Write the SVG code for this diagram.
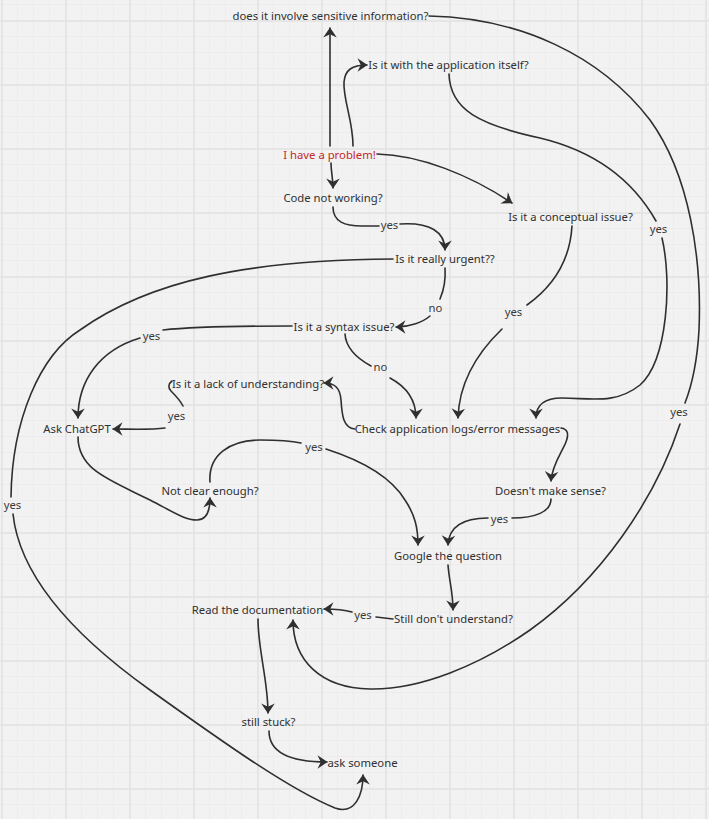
<svg xmlns="http://www.w3.org/2000/svg" width="709" height="819" viewBox="0 0 709 819">
  <defs>
    <pattern id="grid" x="1" y="20" width="64" height="64" patternUnits="userSpaceOnUse">
      <rect width="64" height="64" fill="#f2f2f2"/>
      <rect x="16" y="0" width="1" height="64" fill="#ececec"/>
      <rect x="32" y="0" width="1" height="64" fill="#ececec"/>
      <rect x="48" y="0" width="1" height="64" fill="#ececec"/>
      <rect x="0" y="16" width="64" height="1" fill="#ececec"/>
      <rect x="0" y="32" width="64" height="1" fill="#ececec"/>
      <rect x="0" y="48" width="64" height="1" fill="#ececec"/>
      <rect x="0" y="0" width="2" height="64" fill="#e5e5e5"/>
      <rect x="0" y="0" width="64" height="2" fill="#e5e5e5"/>
    </pattern>
    <marker id="ah" viewBox="-11 -8 12 16" refX="0" refY="0" markerWidth="12" markerHeight="16" markerUnits="userSpaceOnUse" orient="auto">
      <path d="M0.5,0 L-9.5,-6.8 L-6.2,0 L-9.5,6.8 Z" fill="#2f2f2f"/>
    </marker>
    <style>
      .t { font-family: "Noto Sans", "Open Sans", sans-serif; font-size: 11.3px; fill: #303030; text-anchor: middle; }
      .lbl { font-family: "Noto Sans", "Open Sans", sans-serif; font-size: 11.3px; fill: #3a3a3a; text-anchor: middle; }
      .red { fill: #c62828; }
      .c path { fill: none; stroke: #2f2f2f; stroke-width: 1.6; stroke-linecap: round; }
      .c path.a { marker-end: url(#ah); }
    </style>
  </defs>

  <rect width="709" height="819" fill="url(#grid)"/>

  <!-- connectors -->
  <g id="connectors" class="c">
    <!-- problem -> sensitive information -->
    <path class="a" d="M330,146 L330,28"/>
    <!-- problem -> application itself -->
    <path class="a" d="M353,146 C353,120 343,100 344,82 C345,70 352,65 367,65"/>
    <!-- problem -> code not working -->
    <path class="a" d="M331,163 C331,172 333,178 333,188"/>
    <!-- problem -> conceptual issue -->
    <path class="a" d="M377,154 C420,155 470,175 512,203"/>
    <!-- code not working -> urgent (yes) -->
    <path d="M333,207 C333,222 345,226 362,226 L379,226"/>
    <path class="a" d="M400,224 C430,222 445,232 445,250"/>
    <!-- urgent -> syntax (no) -->
    <path d="M445,268 C446,282 443,292 440,299"/>
    <path class="a" d="M430,316 C423,322 410,327 396,327"/>
    <!-- urgent -> ask someone (yes) -->
    <path d="M393,259 C250,260 150,280 80,330 C40,355 12,420 11,497"/>
    <path class="a" d="M13,514 C20,580 80,640 150,690 C220,740 290,790 335,808 C355,815 363,795 363,775"/>
    <!-- syntax -> ChatGPT (yes) -->
    <path d="M292,326 C240,326 190,327 163,330"/>
    <path class="a" d="M140,338 C100,350 78,380 78,418"/>
    <!-- syntax -> check logs (no) -->
    <path d="M345,334 C346,350 360,360 371,366"/>
    <path class="a" d="M390,378 C405,386 416,398 416,418"/>
    <!-- conceptual -> check logs (yes) -->
    <path d="M572,226 C570,260 555,285 527,305"/>
    <path class="a" d="M502,329 C475,355 459,385 458,418"/>
    <!-- application itself -> check logs (yes) -->
    <path d="M449,74 C450,110 480,125 540,138 C590,150 630,175 656,221"/>
    <path class="a" d="M662,238 C672,280 668,360 640,385 C615,405 590,398 562,398 C545,398 536,405 536,418"/>
    <!-- sensitive information -> read documentation (yes) -->
    <path d="M429,16 C520,18 600,55 650,120 C690,175 702,260 699,330 C697,365 692,385 685,403"/>
    <path class="a" d="M680,424 C655,500 600,580 530,630 C480,665 420,690 370,689 C320,688 293,660 293,620"/>
    <!-- check logs -> lack of understanding -->
    <path class="a" d="M355,429 C343,428 342,415 341,400 C340,388 335,383 324,383"/>
    <!-- lack of understanding -> ChatGPT (yes) -->
    <path d="M172,381 C168,384 168,388 171,391 C176,396 180,400 183,406"/>
    <path class="a" d="M165,428 C150,430 130,429 113,429"/>
    <!-- ChatGPT -> not clear enough -->
    <path class="a" d="M78,437 C78,470 110,480 150,500 C175,513 185,520 197,520 C207,520 210,510 210,498"/>
    <!-- not clear enough -> google (yes) -->
    <path d="M210,482 C208,455 230,440 260,440 C280,440 292,441 301,443"/>
    <path class="a" d="M326,449 C360,460 390,475 405,500 C415,515 418,528 418,545"/>
    <!-- check logs -> doesn't make sense -->
    <path class="a" d="M561,428 C568,429 569,434 566,442 C562,452 552,465 551,481"/>
    <!-- doesn't make sense -> google (yes) -->
    <path d="M551,499 C551,512 535,518 512,518"/>
    <path class="a" d="M488,518 C465,518 449,525 448,545"/>
    <!-- google -> still don't understand -->
    <path class="a" d="M448,565 C449,580 453,592 453,610"/>
    <!-- still don't understand -> read documentation (yes) -->
    <path d="M393,619 L376,617"/>
    <path class="a" d="M352,612 C345,610 335,609 324,609"/>
    <!-- read documentation -> still stuck -->
    <path class="a" d="M258,619 C258,650 268,680 268,713"/>
    <!-- still stuck -> ask someone -->
    <path class="a" d="M269,731 C269,752 290,762 327,762"/>

    <!-- edge labels -->
    <text class="lbl" x="389.5" y="229">yes</text>
    <text class="lbl" x="435.5" y="312">no</text>
    <text class="lbl" x="513.5" y="316">yes</text>
    <text class="lbl" x="658.5" y="233">yes</text>
    <text class="lbl" x="679" y="416">yes</text>
    <text class="lbl" x="151.5" y="340">yes</text>
    <text class="lbl" x="380.5" y="371">no</text>
    <text class="lbl" x="176.5" y="420">yes</text>
    <text class="lbl" x="314" y="451">yes</text>
    <text class="lbl" x="499.5" y="523">yes</text>
    <text class="lbl" x="363" y="619">yes</text>
    <text class="lbl" x="12.5" y="509">yes</text>
  </g>

  <!-- nodes -->
  <g id="n-sensitive"><text class="t" x="330.5" y="20">does it involve sensitive information?</text></g>
  <g id="n-app-itself"><text class="t" x="448.5" y="69">Is it with the application itself?</text></g>
  <g id="n-problem"><text class="t red" x="329.5" y="159">I have a problem!</text></g>
  <g id="n-code"><text class="t" x="333" y="202">Code not working?</text></g>
  <g id="n-conceptual"><text class="t" x="570.5" y="221">Is it a conceptual issue?</text></g>
  <g id="n-urgent"><text class="t" x="445" y="263">Is it really urgent??</text></g>
  <g id="n-syntax"><text class="t" x="344" y="331">Is it a syntax issue?</text></g>
  <g id="n-lack"><text class="t" x="248" y="388">Is it a lack of understanding?</text></g>
  <g id="n-chatgpt"><text class="t" x="77" y="433">Ask ChatGPT</text></g>
  <g id="n-logs"><text class="t" x="457.5" y="433">Check application logs/error messages</text></g>
  <g id="n-not-clear"><text class="t" x="210" y="495">Not clear enough?</text></g>
  <g id="n-no-sense"><text class="t" x="550.5" y="495">Doesn't make sense?</text></g>
  <g id="n-google"><text class="t" x="448" y="560">Google the question</text></g>
  <g id="n-still-dont"><text class="t" x="453.5" y="623">Still don't understand?</text></g>
  <g id="n-docs"><text class="t" x="257.5" y="614">Read the documentation</text></g>
  <g id="n-stuck"><text class="t" x="268.5" y="726">still stuck?</text></g>
  <g id="n-ask"><text class="t" x="362.5" y="767">ask someone</text></g>
</svg>
